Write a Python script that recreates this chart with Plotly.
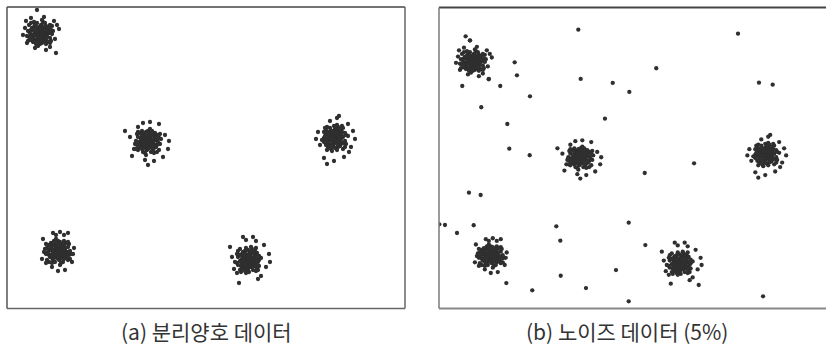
import plotly.graph_objects as go

W, H = 826, 349

# ---- cluster points (same underlying clusters in both panels) ----
c1_x = [32,35,28,37,30,39,26,33,24,41, 36,27,34,31,38,23,42,29,40,25,
        43,21,32,35,28,37,26,34,30,36, 29,38,24,33,41,22,39,27,35,31,
        44,20,37,25,40,32,28,42,23,34, 38,26,43,21,33,
        29,48,15,51,47,17,36,27,46,19,42,23,49,18,38,
        33,30,35,27,36,31,38,26,34,29,39,25,32,37,28,34,30,35,31,38,26,33,36,29,32,
        45,19,34,30,42,23,44,20]
c1_y = [274,276,275,271,269,278,280,282,272,274, 266,267,273,278,281,277,269,284,265,265,
        277,270,263,285,272,275,273,279,276,278, 271,269,279,268,280,274,273,283,270,265,
        273,276,284,277,276,280,263,282,267,264, 263,285,266,282,275,
        297,254,272,278,268,279,290,259,286,264,260,289,282,286,257,
        272,277,279,273,268,270,276,278,281,267,271,269,277,273,280,271,274,275,280,267,271,278,277,275,268,
        276,271,287,261,264,284,281,266]

c2_x = [140,137,144,135,142,133,146,139,148,131, 136,145,138,141,134,149,130,143,132,147,
        129,151,140,137,144,135,146,138,142,136, 143,134,148,139,131,150,133,145,137,141,
        128,152,135,147,132,140,144,130,149,138, 134,146,129,151,139,
        117,142,151,140,137,157,160,122,126,155,135,161,124,146,130,
        139,142,137,145,136,141,134,146,138,143,133,147,140,135,144,138,142,137,141,134,146,139,136,143,140,
        127,153,138,142,130,149,128,152]
c2_y = [165,163,164,168,170,161,159,157,167,165, 173,172,166,161,158,162,170,155,174,174,
        162,169,176,154,167,164,166,160,163,161, 168,170,160,171,159,165,166,156,169,174,
        166,163,155,162,163,159,176,157,172,175, 176,154,173,157,164,
        176,185,183,142,147,172,158,170,158,150,184,166,151,146,180,
        167,162,160,166,171,169,163,161,158,172,168,170,162,166,159,168,165,164,159,172,168,161,162,164,171,
        163,168,152,178,175,155,158,173]

c3_x = [327,329,328,324,322,331,333,335,325,327, 319,320,326,331,334,330,322,337,318,318,
        330,323,316,338,325,328,326,332,329,331, 324,322,332,321,333,327,326,336,323,318,
        326,329,337,330,329,333,316,335,320,317, 316,338,319,335,328,
        331,347,319,316,329,343,310,312,340,345,322,336,308,326,341,
        325,330,332,326,321,323,329,331,334,320,324,322,330,326,333,324,327,328,333,320,324,331,330,328,321,
        329,324,340,314,317,337,334,319]
c3_y = [169,172,165,174,167,176,163,170,161,178, 173,164,171,168,175,160,179,166,177,162,
        180,158,169,172,165,174,163,171,167,173, 166,175,161,170,178,159,176,164,172,168,
        181,157,174,162,177,169,165,179,160,171, 175,163,180,158,170,
        191,168,143,149,189,160,175,162,183,176,186,150,168,146,155,
        170,167,172,164,173,168,175,163,171,166,176,162,169,174,165,171,167,172,168,175,163,170,173,166,169,
        182,156,171,167,179,160,181,157]

c4_x = [50,53,46,55,48,57,44,51,42,59, 54,45,52,49,56,41,60,47,58,43,
        61,39,50,53,46,55,44,52,48,54, 47,56,42,51,59,40,57,45,53,49,
        62,38,55,43,58,50,46,60,41,52, 56,44,61,39,51,
        45,60,52,38,57,44,35,66,65,36,64,50,34,56,48,
        51,48,53,45,54,49,56,44,52,47,57,43,50,55,46,52,48,53,49,56,44,51,54,47,50,
        63,37,52,48,60,41,62,38]
c4_y = [55,53,54,58,60,51,49,47,57,55, 63,62,56,51,48,52,60,45,64,64,
        52,59,66,44,57,54,56,50,53,51, 58,60,50,61,49,55,56,46,59,64,
        56,53,45,52,53,49,66,47,62,65, 66,44,63,47,54,
        74,74,75,44,37,40,68,59,53,55,45,36,48,72,72,
        57,52,50,56,61,59,53,51,48,62,58,60,52,56,49,58,55,54,49,62,58,51,52,54,61,
        53,58,42,68,65,45,48,63]

c5_x = [240,238,239,243,245,236,234,232,242,240, 248,247,241,236,233,237,245,230,249,249,
        237,244,251,229,242,239,241,235,238,236, 243,245,235,246,234,240,241,231,244,249,
        241,238,230,237,238,234,251,232,247,250, 251,229,248,232,239,
        231,229,235,245,224,261,258,256,222,250,262,226,248,238,253,
        242,237,235,241,246,244,238,236,233,247,243,245,237,241,234,243,240,239,234,247,243,236,237,239,246,
        238,243,227,253,250,230,233,248]
c5_y = [47,44,51,42,49,40,53,46,55,38, 43,52,45,48,41,56,37,50,39,54,
        36,58,47,44,51,42,53,45,49,43, 50,41,55,46,38,57,40,52,44,48,
        35,59,42,54,39,47,51,37,56,45, 41,53,36,58,46,
        24,34,70,70,50,53,40,62,60,28,45,38,66,67,31,
        46,49,44,52,43,48,41,53,45,50,40,54,47,42,51,45,49,44,48,41,53,46,43,50,47,
        34,60,45,49,37,56,35,59]

# ---- noise points (panel b only) ----
noise_x = [138.0,24.7,29.1,74.0,76.3,47.9,21.3,59.5,140.4,172.6,189.3,89.4,40.4,164.8,
           66.6,68.6,89.1,298.6,216.4,319.7,333.5,28.0,39.8,-1.8,3.9,32.8,16.0,115.9,
           119.9,188.7,175.9,120.3,145.7,65.6,91.7,188.7,254.4,204.8,205.4,259.1,323.8]
noise_y = [309.2,301.8,297.3,272.6,258.0,253.5,246.0,246.0,253.9,249.4,239.3,234.4,222.1,
           209.3,203.3,175.6,168.2,304.7,265.9,249.7,247.5,126.2,123.6,90.7,89.9,89.6,80.9,
           88.4,72.3,92.5,39.3,32.9,19.1,24.7,16.6,4.2,159.2,148.3,67.4,22.5,9.8]

captions = ["(a) 분리양호 데이터", "(b) 노이즈 데이터 (5%)"]

clust_x = c1_x + c2_x + c3_x + c4_x + c5_x
clust_y = c1_y + c2_y + c3_y + c4_y + c5_y

mk = dict(size=4.3, color="#2f2f2f", line=dict(width=0))

fig = go.Figure()
fig.add_trace(go.Scatter(x=clust_x, y=clust_y, mode="markers", marker=mk,
                         xaxis="x", yaxis="y", showlegend=False, hoverinfo="skip"))
fig.add_trace(go.Scatter(x=clust_x + noise_x, y=clust_y + noise_y, mode="markers", marker=mk,
                         xaxis="x2", yaxis="y2", showlegend=False, hoverinfo="skip"))

def px(v):
    return v / W

def py(v):
    return 1 - v / H

ax = dict(showgrid=False, zeroline=False, showticklabels=False, ticks="", showline=False, fixedrange=True)

fig.update_layout(
    width=W, height=H, margin=dict(l=0, r=0, t=0, b=0),
    paper_bgcolor="white", plot_bgcolor="white",
    xaxis=dict(ax, domain=[px(7), px(405)], range=[-1, 397], anchor="y"),
    yaxis=dict(ax, domain=[py(308), py(7)], range=[-1, 300], anchor="x"),
    xaxis2=dict(ax, domain=[px(439), 1.0], range=[-2.1, 387.1], anchor="y2"),
    yaxis2=dict(ax, domain=[py(308), py(7)], range=[-3.3, 334.7], anchor="x2"),
)

shapes = []
def line(x0, y0, x1, y1, color, w):
    shapes.append(dict(type="line", xref="paper", yref="paper",
                       x0=px(x0), y0=py(y0), x1=px(x1), y1=py(y1),
                       line=dict(color=color, width=w)))

# panel a box
line(7, 7, 405, 7, "#444444", 1.5)
line(7, 308.5, 405, 308.5, "#666666", 1.5)
line(7, 7, 7, 308.5, "#555555", 1.5)
line(405, 7, 405, 308.5, "#666666", 1.5)
# panel b box (right side cut off)
line(439, 7.5, 826, 7.5, "#444444", 2)
line(439, 308.5, 826, 308.5, "#888888", 2)
line(439, 7.5, 439, 308.5, "#7a7a7a", 1.5)
fig.update_layout(shapes=shapes)

for cx, txt in zip([206, 627], captions):
    fig.add_annotation(x=px(cx), y=py(331), xref="paper", yref="paper",
                       text=txt, showarrow=False, xanchor="center", yanchor="middle",
                       font=dict(family="Noto Sans CJK KR", size=21, color="#333333"))

fig.write_html("out.html", config={"displayModeBar": False},
               post_script="document.body.style.margin='0';document.body.style.padding='0';")
